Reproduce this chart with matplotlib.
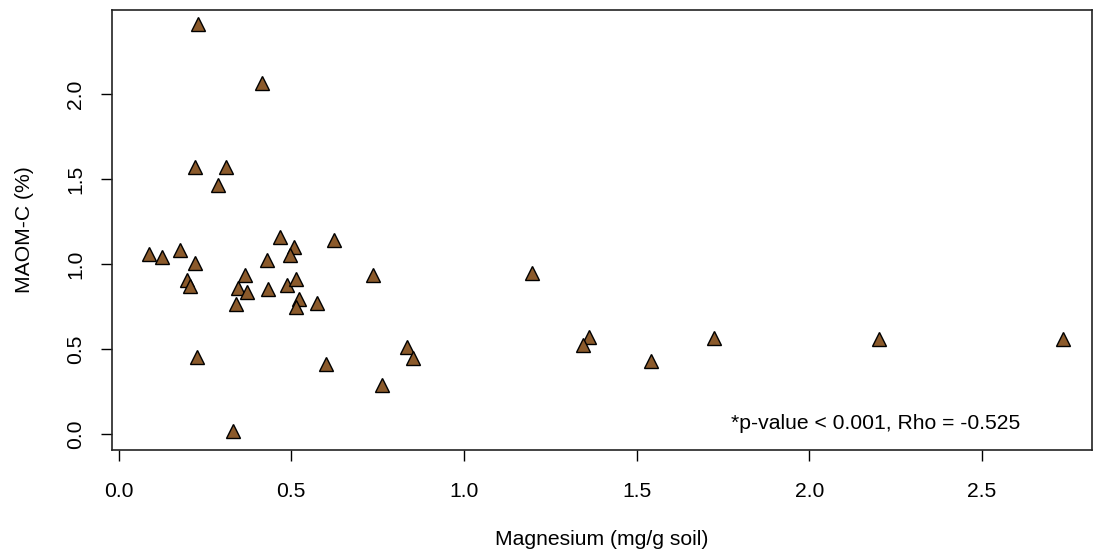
import matplotlib
matplotlib.use("Agg")
import matplotlib.pyplot as plt

plt.rcParams['font.family'] = ['Liberation Sans', 'DejaVu Sans']

magnesium = [0.229, 0.414, 0.220, 0.312, 0.288,
             0.0875, 0.127, 0.178, 0.220, 0.198, 0.207, 0.339, 0.345, 0.366, 0.371,
             0.227, 0.332, 0.429, 0.434, 0.467, 0.508, 0.495, 0.488, 0.514, 0.521,
             0.514, 0.574, 0.624, 0.600, 0.737, 0.763, 0.835, 0.854,
             1.196, 1.362, 1.346, 1.541, 1.725, 2.202, 2.735]
maom_c = [2.41, 2.065, 1.572, 1.568, 1.462,
          1.056, 1.043, 1.080, 1.006, 0.908, 0.871, 0.765, 0.857, 0.933, 0.837,
          0.455, 0.018, 1.024, 0.853, 1.161, 1.100, 1.055, 0.874, 0.910, 0.796,
          0.749, 0.769, 1.141, 0.412, 0.933, 0.290, 0.510, 0.447,
          0.945, 0.571, 0.525, 0.429, 0.567, 0.559, 0.559]
x_ticks = [0.0, 0.5, 1.0, 1.5, 2.0, 2.5]
y_ticks = [0.0, 0.5, 1.0, 1.5, 2.0]
annotation = "*p-value < 0.001, Rho = -0.525"

FS = 15.2

fig = plt.figure(figsize=(10.94, 5.58), dpi=100)
ax = fig.add_axes([111.7/1094, 1-450/558, (1092-111.7)/1094, (450-10)/558])

ax.plot(magnesium, maom_c, linestyle='none', marker='^', markersize=9.5,
        markerfacecolor='#8B5A2B', markeredgecolor='black', markeredgewidth=1.0)

ax.set_xlim(-0.020, 2.819)
ax.set_ylim(-0.094, 2.494)
ax.set_xticks(x_ticks)
ax.set_xticklabels([f"{v:.1f}" for v in x_ticks])
ax.set_yticks(y_ticks)
ax.set_yticklabels([f"{v:.1f}" for v in y_ticks], rotation=90, va='center')

ax.tick_params(axis='both', direction='out', length=8, width=1, labelsize=FS,
               colors='black')
ax.tick_params(axis='x', pad=15)
ax.tick_params(axis='y', pad=11)
for s in ax.spines.values():
    s.set_linewidth(1.2)
    s.set_color('#222222')

ax.set_xlabel("Magnesium (mg/g soil)", fontsize=FS, labelpad=21)
ax.set_ylabel("MAOM-C (%)", fontsize=FS, labelpad=23)

ax.text(1.773, 0.059, annotation, fontsize=FS, ha='left', va='center')

fig.savefig("out.png", dpi=100)
